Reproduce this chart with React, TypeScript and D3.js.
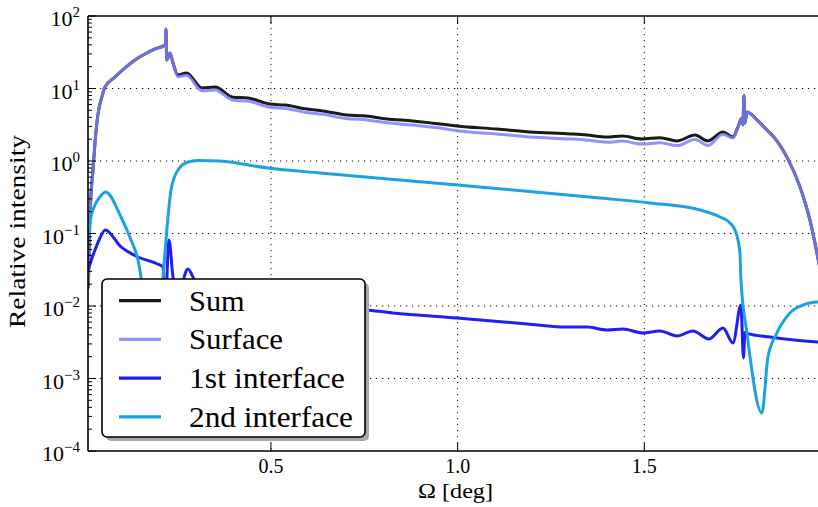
import React from "react";
import * as d3 from "d3";

// ---------- data ----------
const X_TOTAL = [0.01, 0.0113, 0.014, 0.018, 0.0234, 0.0287, 0.0341, 0.0395, 0.0448, 0.0555, 0.0823, 0.1091, 0.1359, 0.1627, 0.1894, 0.2162, 0.2176, 0.2189, 0.2208, 0.2297, 0.2376, 0.251, 0.2738, 0.3153, 0.3501, 0.3983, 0.4385, 0.4974, 0.5376, 0.5965, 0.6393, 0.7036, 0.7465, 0.8107, 0.8804, 0.9527, 0.9982, 1.1053, 1.1937, 1.303, 1.3463, 1.3999, 1.44, 1.4936, 1.5418, 1.5874, 1.6356, 1.6704, 1.7106, 1.7374, 1.7508, 1.7615, 1.7641, 1.7668, 1.7695, 1.7749, 1.8016, 1.8284, 1.8552, 1.882, 1.9168, 1.9436, 1.9623, 1.9757, 1.99];
const SUM = [0.018, 0.0229, 0.102, 0.34, 0.75, 1.77, 3.45, 5.4, 6.9, 10.5, 14.4, 19.2, 24.7, 29.9, 35.1, 39.8, 41, 66, 24.7, 30.9, 22.5, 15.3, 16.4, 10.2, 10.5, 7.6, 7.4, 6.1, 5.9, 5.2, 4.9, 4.3, 4.2, 3.8, 3.56, 3.24, 3.04, 2.76, 2.51, 2.36, 2.28, 2.14, 2.21, 2.01, 2.1, 1.89, 2.28, 1.89, 2.51, 2.14, 2.94, 3.92, 3.14, 8.1, 3.34, 4.74, 3.7, 2.68, 1.9, 1.13, 0.44, 0.153, 0.054, 0.023, 0.008];
const SURFACE = [0.018, 0.0229, 0.102, 0.34, 0.75, 1.77, 3.45, 5.4, 6.9, 10.5, 14.4, 19.2, 24.7, 29.9, 35.1, 39.8, 41, 66, 24.7, 30.9, 22.5, 14.5, 15.2, 9.3, 9.5, 6.9, 6.7, 5.5, 5.3, 4.65, 4.4, 3.83, 3.74, 3.36, 3.13, 2.85, 2.61, 2.36, 2.14, 2.01, 1.94, 1.82, 1.88, 1.71, 1.79, 1.63, 1.98, 1.64, 2.33, 2.08, 2.88, 3.92, 3.14, 8.1, 3.34, 4.74, 3.7, 2.68, 1.9, 1.13, 0.44, 0.153, 0.054, 0.023, 0.008];

const X_FIRST = [0.01, 0.0287, 0.0421, 0.0563, 0.0984, 0.1439, 0.1894, 0.2109, 0.2162, 0.2269, 0.2376, 0.2457, 0.2537, 0.2644, 0.2778, 0.2912, 0.3046, 0.337, 0.4439, 0.578, 0.7574, 0.8271, 0.9985, 1.186, 1.2931, 1.3463, 1.3999, 1.4427, 1.4963, 1.5418, 1.5874, 1.6302, 1.6731, 1.7106, 1.7374, 1.7588, 1.7655, 1.7695, 1.7749, 1.8365, 1.965, 2.0];
const FIRST = [0.0314, 0.0592, 0.0867, 0.112, 0.0652, 0.0474, 0.0392, 0.0345, 0.008, 0.0813, 0.025, 0.016, 0.013, 0.022, 0.0324, 0.025, 0.018, 0.0156, 0.0125, 0.0108, 0.00881, 0.008, 0.00683, 0.00565, 0.00513, 0.00513, 0.00467, 0.00482, 0.00425, 0.00452, 0.00386, 0.00452, 0.00351, 0.00498, 0.00309, 0.0103, 0.00192, 0.0043, 0.0042, 0.00373, 0.00318, 0.00309];

const X_SECOND = [0.01, 0.0154, 0.0287, 0.0421, 0.0569, 0.0984, 0.1252, 0.1439, 0.1519, 0.1814, 0.2109, 0.2243, 0.2323, 0.251, 0.2778, 0.3046, 0.3635, 0.492, 0.6313, 1.0009, 1.3812, 1.5151, 1.649, 1.7026, 1.7293, 1.7427, 1.7508, 1.7561, 1.7588, 1.7749, 1.815, 1.8311, 1.8552, 1.89, 1.9248, 1.965, 2.0];
const SECOND = [0.0813, 0.144, 0.247, 0.319, 0.373, 0.169, 0.0813, 0.043, 0.0251, 0.0005, 0.0251, 0.169, 0.398, 0.751, 0.968, 1.02, 1.0, 0.8, 0.683, 0.467, 0.309, 0.264, 0.211, 0.169, 0.14, 0.112, 0.0813, 0.0538, 0.0229, 0.00425, 0.000334, 0.00198, 0.00425, 0.008, 0.0103, 0.0114, 0.0117];

const X_TICKS = [0.5, 1.0, 1.5];
const X_TICK_LABELS = ["0.5", "1.0", "1.5"];
const Y_EXPONENTS = [-4, -3, -2, -1, 0, 1, 2];
const X_DOMAIN: [number, number] = [0.01, 2.0];
const Y_DOMAIN: [number, number] = [1e-4, 1e2];

const SERIES_NAMES = ["Sum", "Surface", "1st interface", "2nd interface"];
const SERIES_COLORS = ["#1a1a1a", "#7f7fff", "#1f1ff5", "#1ca2e1"];
const SERIES_OPACITY = [1, 0.85, 1, 1];
const LEGEND_TEXT_WIDTHS = [55.7, 94, 155.7, 164];

// ---------- layout ----------
const W = 818;
const H = 507;
const L = 88, R = 831, T = 16, B = 451;
const FONT = '"Liberation Serif", "DejaVu Serif", serif';

export default function App() {
  const x = d3.scaleLinear().domain(X_DOMAIN).range([L, R]);
  const y = d3.scaleLog().domain(Y_DOMAIN).range([B, T]);

  const line = d3
    .line<[number, number]>()
    .x((d) => x(d[0]))
    .y((d) => y(d[1]))
    .curve(d3.curveMonotoneX);

  const seriesData: [number, number][][] = [
    X_TOTAL.map((v, i) => [v, SUM[i]] as [number, number]),
    X_TOTAL.map((v, i) => [v, SURFACE[i]] as [number, number]),
    X_FIRST.map((v, i) => [v, FIRST[i]] as [number, number]),
    X_SECOND.map((v, i) => [v, SECOND[i]] as [number, number]),
  ];

  const minorY: number[] = [];
  for (let e = -4; e < 2; e++) {
    for (let m = 2; m <= 9; m++) minorY.push(m * Math.pow(10, e));
  }

  const legX = 102, legY = 279, legW = 263, legH = 158;
  const rowY = (i: number) => 300.7 + i * 38.7;
  const txt = { fontFamily: FONT };

  return (
    <svg
      width={W}
      height={H}
      style={{ position: "absolute", left: 0, top: 0, background: "#fff", fontFamily: FONT }}
    >
      <defs>
        <clipPath id="plotclip">
          <rect x={L} y={T} width={R - L} height={B - T} />
        </clipPath>
      </defs>
      <rect x={0} y={0} width={W} height={H} fill="#fff" />

      {/* grid */}
      <g stroke="#000" strokeWidth={1} strokeDasharray="1.2,4.8">
        {Y_EXPONENTS.slice(1, -1).map((e) => (
          <line key={"gy" + e} x1={L} x2={R} y1={y(Math.pow(10, e))} y2={y(Math.pow(10, e))} />
        ))}
        {X_TICKS.map((t) => (
          <line key={"gx" + t} x1={x(t)} x2={x(t)} y1={T} y2={B} />
        ))}
      </g>

      {/* series */}
      <g clipPath="url(#plotclip)" fill="none" strokeLinejoin="round" strokeLinecap="round">
        {seriesData.map((d, i) => (
          <path
            key={"s" + i}
            d={line(d) || ""}
            stroke={SERIES_COLORS[i]}
            strokeOpacity={SERIES_OPACITY[i]}
            strokeWidth={3}
          />
        ))}
      </g>

      {/* ticks */}
      <g stroke="#000" strokeWidth={1}>
        {Y_EXPONENTS.map((e) => (
          <line key={"ty" + e} x1={L} x2={L + 8} y1={y(Math.pow(10, e))} y2={y(Math.pow(10, e))} />
        ))}
        {minorY.map((v, i) => (
          <line key={"my" + i} x1={L} x2={L + 4} y1={y(v)} y2={y(v)} />
        ))}
        {X_TICKS.map((t) => (
          <g key={"tx" + t}>
            <line x1={x(t)} x2={x(t)} y1={B} y2={B - 8} />
            <line x1={x(t)} x2={x(t)} y1={T} y2={T + 8} />
          </g>
        ))}
      </g>

      {/* spines */}
      <g stroke="#000" strokeWidth={1.6} fill="none">
        <line x1={L} x2={L} y1={T} y2={B} />
        <line x1={L} x2={R} y1={B} y2={B} />
        <line x1={L} x2={R} y1={T} y2={T} />
        <line x1={R} x2={R} y1={T} y2={B} />
      </g>

      {/* y tick labels */}
      {Y_EXPONENTS.map((e) => (
        <text key={"ly" + e} x={80} y={y(Math.pow(10, e)) + 10} textAnchor="end" fontSize={22} fill="#000" style={txt}>
          <tspan>10</tspan>
          <tspan dy={-9} fontSize={15}>{e < 0 ? "\u2212" + Math.abs(e) : String(e)}</tspan>
        </text>
      ))}

      {/* x tick labels */}
      {X_TICKS.map((t, i) => (
        <text key={"lx" + t} x={x(t)} y={473} textAnchor="middle" fontSize={20} fill="#000" style={txt}>
          {X_TICK_LABELS[i]}
        </text>
      ))}

      {/* axis labels */}
      <text x={455.5} y={498} textAnchor="middle" fontSize={22} textLength={75} lengthAdjust="spacingAndGlyphs" style={txt}>
        Ω [deg]
      </text>
      <text
        transform="translate(25,231.5) rotate(-90)"
        textAnchor="middle"
        fontSize={24}
        textLength={193}
        lengthAdjust="spacingAndGlyphs"
        style={txt}
      >
        Relative intensity
      </text>

      {/* legend */}
      <rect x={legX + 4} y={legY + 4} width={legW} height={legH} rx={5} fill="#a6a6a6" />
      <rect x={legX} y={legY} width={legW} height={legH} rx={5} fill="#fff" stroke="#000" strokeWidth={1.6} />
      {SERIES_NAMES.map((name, i) => (
        <g key={"leg" + i}>
          <line
            x1={119}
            x2={161}
            y1={rowY(i)}
            y2={rowY(i)}
            stroke={SERIES_COLORS[i]}
            strokeOpacity={SERIES_OPACITY[i]}
            strokeWidth={3.3}
          />
          <text
            x={189}
            y={rowY(i) + 10}
            fontSize={30}
            textLength={LEGEND_TEXT_WIDTHS[i]}
            lengthAdjust="spacingAndGlyphs"
            fill="#000"
            style={txt}
          >
            {name}
          </text>
        </g>
      ))}
    </svg>
  );
}
